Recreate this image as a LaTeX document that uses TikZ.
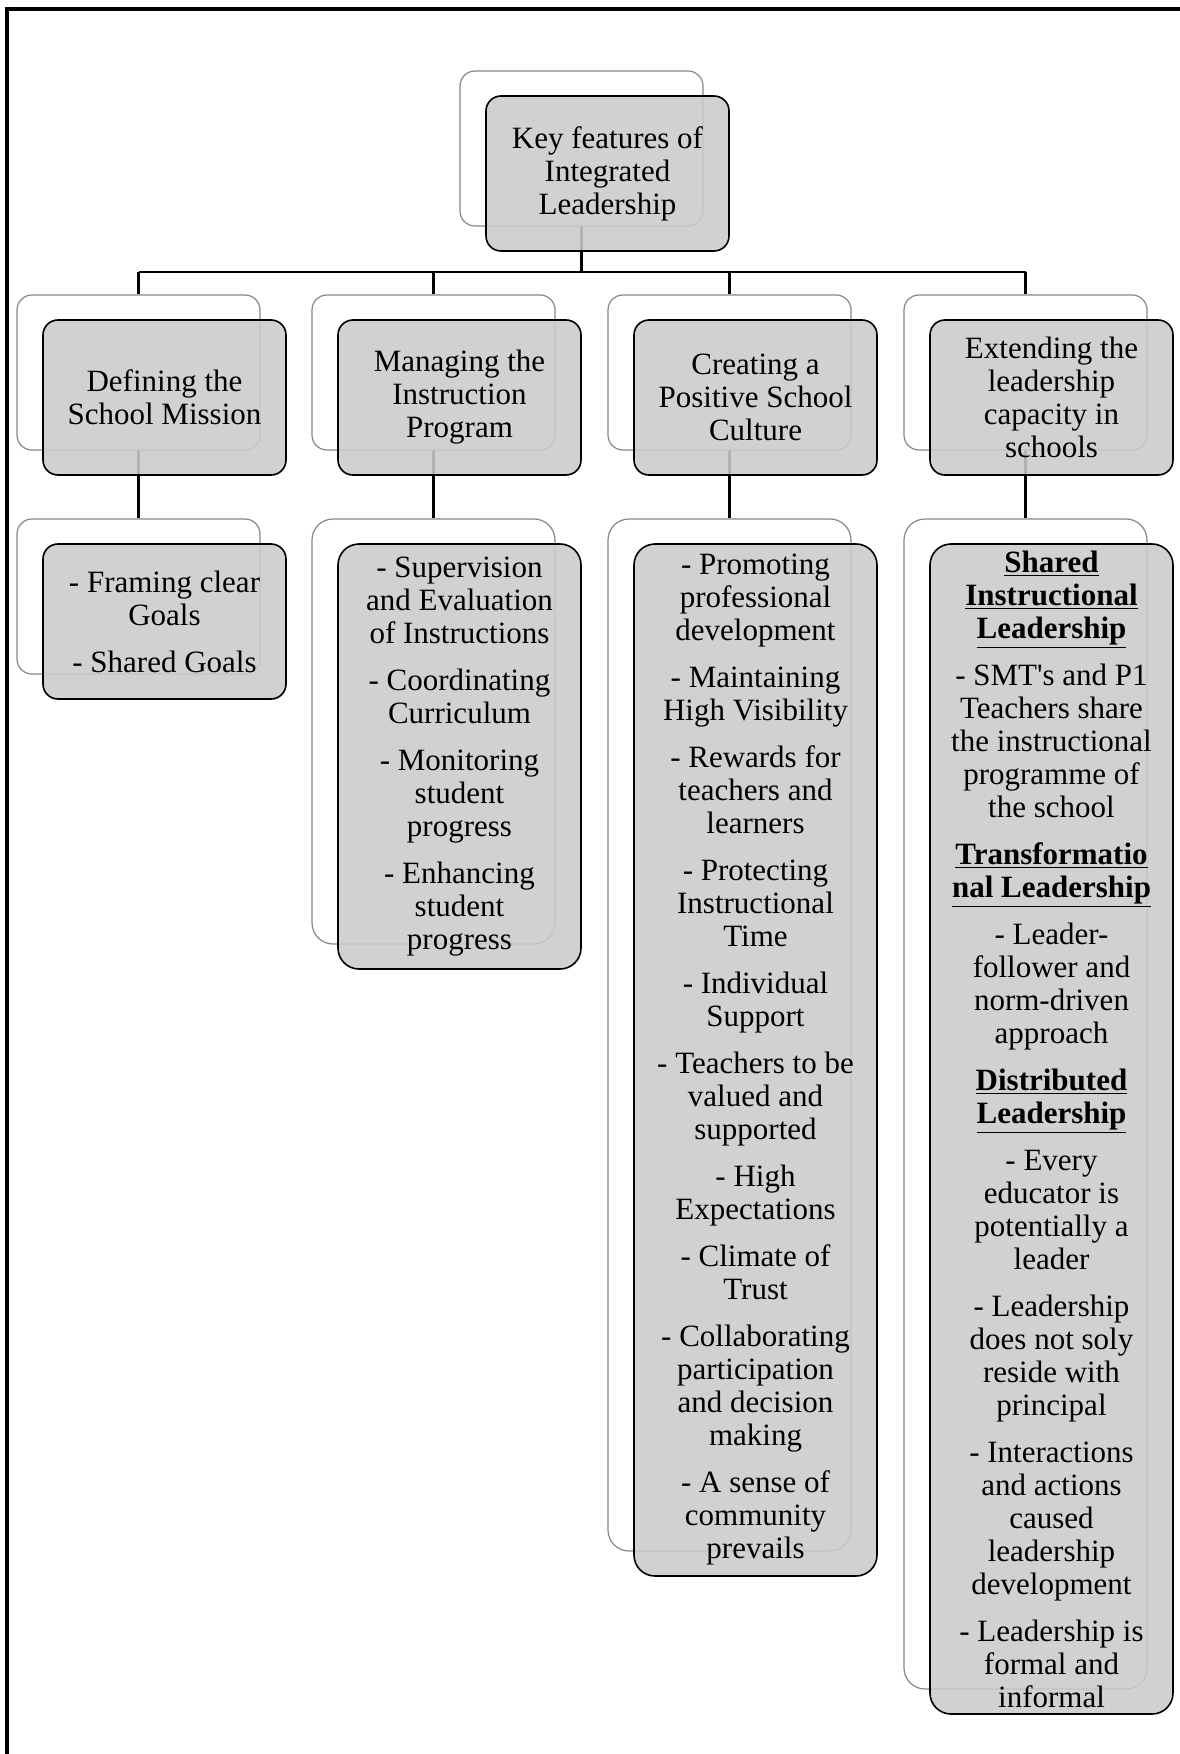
\documentclass[tikz,border=0pt]{standalone}
\usepackage{fontspec}
\setmainfont{Liberation Serif}[Ligatures=TeXOff]
\definecolor{boxfill}{RGB}{203,203,203}
\definecolor{backline}{RGB}{135,135,135}
\begin{document}
\begin{tikzpicture}[x=0.5pt,y=-0.5pt,
  mainbox/.style={draw=black, line width=0.8pt, fill=boxfill, fill opacity=0.88, text opacity=1,
    rounded corners=7.5pt, inner sep=0pt, align=center,
    font=\fontsize{15.5}{16.5}\selectfont, minimum width=121.5pt},
  backbox/.style={draw=backline, line width=0.6pt, fill=white, rounded corners=7.5pt,
    inner sep=0pt, minimum width=121.5pt},
  tallbox/.style={rounded corners=10.5pt},
  conn/.style={draw=black, line width=1.3pt},
  frameline/.style={draw=black, line width=1.7pt}]
\useasboundingbox (0,0) rectangle (1179,1754);
\draw[frameline] (7,1760) -- (7,9) -- (1185,9);
% back boxes
\node[backbox, minimum height=77.5pt] (topb) at (581.5,148.5) {};
\node[backbox, minimum height=77.5pt] (b1) at (138.5,372.5) {};
\node[backbox, minimum height=77.5pt] (b2) at (433.5,372.5) {};
\node[backbox, minimum height=77.5pt] (b3) at (729.5,372.5) {};
\node[backbox, minimum height=77.5pt] (b4) at (1025.5,372.5) {};
\node[backbox, minimum height=77.5pt] (c1) at (138.5,596.5) {};
\node[backbox, tallbox, minimum height=212.5pt] (c2) at (433.5,731.5) {};
\node[backbox, tallbox, minimum height=516pt] (c3) at (729.5,1035) {};
\node[backbox, tallbox, minimum height=585pt] (c4) at (1025.5,1104) {};
% connectors
\coordinate (bar) at (0,272);
\draw[conn] (topb.south) -- (topb.south |- bar);
\draw[conn] (b1.north |- bar) -- (b4.north |- bar);
\draw[conn] (b1.north |- bar) -- (b1.north);
\draw[conn] (b2.north |- bar) -- (b2.north);
\draw[conn] (b3.north |- bar) -- (b3.north);
\draw[conn] (b4.north |- bar) -- (b4.north);
\draw[conn] (b1.south) -- (c1.north);
\draw[conn] (b2.south) -- (c2.north);
\draw[conn] (b3.south) -- (c3.north);
\draw[conn] (b4.south) -- (c4.north);
% main boxes
\node[mainbox, minimum height=77.5pt] (top) at (607.5,173.5) {Key features of\\Integrated\\Leadership};
\node[mainbox, minimum height=77.5pt] (m1) at (164.5,397.5) {Defining the\\School Mission};
\node[mainbox, minimum height=77.5pt] (m2) at (459.5,397.5) {Managing the\\Instruction\\Program};
\node[mainbox, minimum height=77.5pt] (m3) at (755.5,397.5) {Creating a\\Positive School\\Culture};
\node[mainbox, minimum height=77.5pt] (m4) at (1051.5,397.5) {Extending the\\leadership\\capacity in\\schools};
\node[mainbox, minimum height=77.5pt] (d1) at (164.5,621.5) {- Framing clear\\Goals\\[7pt]- Shared Goals};
\node[mainbox, tallbox, minimum height=212.5pt] (d2) at (459.5,756.5) {- Supervision\\and Evaluation\\of Instructions\\[7pt]- Coordinating\\Curriculum\\[7pt]- Monitoring\\student\\progress\\[7pt]- Enhancing\\student\\progress};
\node[mainbox, tallbox, minimum height=516pt] (d3) at (755.5,1060) {- Promoting\\professional\\development\\[7pt]- Maintaining\\High Visibility\\[7pt]- Rewards for\\teachers and\\learners\\[7pt]- Protecting\\Instructional\\Time\\[7pt]- Individual\\Support\\[7pt]- Teachers to be\\valued and\\supported\\[7pt]- High\\Expectations\\[7pt]- Climate of\\Trust\\[7pt]- Collaborating\\participation\\and decision\\making\\[7pt]- A sense of\\community\\prevails};
\node[mainbox, tallbox, minimum height=585pt] (d4) at (1051.5,1129) {\underline{\textbf{Shared}}\\\underline{\textbf{Instructional}}\\\underline{\textbf{Leadership}}\\[7pt]- SMT's and P1\\Teachers share\\the instructional\\programme of\\the school\\[7pt]\underline{\textbf{Transformatio}}\\\underline{\textbf{nal Leadership}}\\[7pt]- Leader-\\follower and\\norm-driven\\approach\\[7pt]\underline{\textbf{Distributed}}\\\underline{\textbf{Leadership}}\\[7pt]- Every\\educator is\\potentially a\\leader\\[7pt]- Leadership\\does not soly\\reside with\\principal\\[7pt]- Interactions\\and actions\\caused\\leadership\\development\\[7pt]- Leadership is\\formal and\\informal};
\end{tikzpicture}
\end{document}
